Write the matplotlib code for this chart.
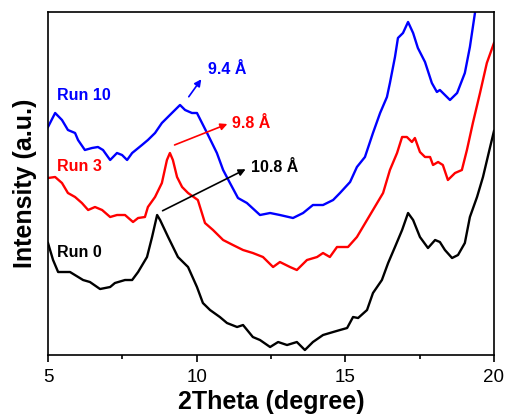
import numpy as np
import matplotlib
matplotlib.use('Agg')
import matplotlib.pyplot as plt

plt.rcParams['font.family'] = ['Liberation Sans', 'DejaVu Sans']

# XRD patterns (2theta in degrees, intensity in arbitrary units)
run0_x = [5.00, 5.17, 5.34, 5.74, 6.18, 6.41, 6.75, 7.09, 7.25, 7.59, 7.83, 8.03, 8.33,
          8.50, 8.67, 8.77, 9.04, 9.37, 9.71, 10.01, 10.21, 10.45, 10.78, 11.02, 11.36,
          11.56, 11.89, 12.13, 12.47, 12.74, 13.04, 13.37, 13.64, 13.91, 14.25, 14.59,
          14.82, 15.06, 15.26, 15.43, 15.73, 15.93, 16.23, 16.44, 16.67, 16.91, 17.11,
          17.28, 17.51, 17.78, 18.02, 18.18, 18.35, 18.59, 18.79, 19.02, 19.19, 19.43,
          19.63, 19.87, 20.00]
run0_y = [112, 95, 83, 83, 75, 73, 66, 68, 72, 75, 75, 83, 98,
          118, 140, 135, 118, 98, 88, 68, 52, 45, 38, 32, 28,
          30, 18, 15, 8, 13, 10, 13, 5, 13, 20, 23,
          25, 27, 38, 37, 45, 62, 75, 92, 108, 125, 142,
          135, 118, 107, 115, 113, 105, 97, 100, 112, 138, 158,
          178, 208, 224]

run3_x = [5.00, 5.24, 5.47, 5.67, 5.91, 6.14, 6.35, 6.58, 6.82, 7.09, 7.32, 7.59, 7.86,
          8.03, 8.26, 8.36, 8.60, 8.83, 9.00, 9.10, 9.20, 9.34, 9.51, 9.71, 10.04,
          10.28, 10.55, 10.89, 11.22, 11.56, 11.89, 12.23, 12.57, 12.80, 13.14, 13.37,
          13.71, 14.05, 14.25, 14.48, 14.72, 15.09, 15.39, 15.73, 16.07, 16.27, 16.50,
          16.74, 16.91, 17.07, 17.24, 17.34, 17.51, 17.68, 17.85, 17.95, 18.12, 18.28,
          18.45, 18.69, 18.92, 19.09, 19.29, 19.53, 19.76, 20.00]
run3_y = [177, 178, 172, 162, 158, 152, 145, 148, 145, 138, 140, 140, 133,
          137, 138, 148, 158, 172, 195, 202, 195, 178, 168, 162, 155,
          132, 125, 115, 110, 105, 102, 98, 88, 93, 88, 85,
          95, 98, 102, 98, 108, 108, 118, 135, 152, 162, 185,
          202, 218, 218, 213, 217, 203, 198, 198, 190, 193, 190,
          175, 182, 185, 205, 232, 262, 292, 312]

run10_x = [5.00, 5.24, 5.47, 5.67, 5.91, 6.01, 6.24, 6.48, 6.68, 6.85, 7.09, 7.32, 7.49,
           7.66, 7.83, 8.16, 8.36, 8.60, 8.83, 9.10, 9.27, 9.44, 9.61, 9.84, 10.01,
           10.35, 10.68, 10.89, 11.12, 11.39, 11.69, 12.13, 12.47, 12.80, 13.24, 13.58,
           13.91, 14.25, 14.59, 14.82, 15.16, 15.39, 15.66, 15.93, 16.17, 16.40, 16.50,
           16.67, 16.77, 16.94, 17.11, 17.28, 17.44, 17.68, 17.91, 18.08, 18.18, 18.52,
           18.76, 19.02, 19.19, 19.36, 19.53, 20.00]
run10_y = [228, 242, 235, 225, 222, 215, 205, 207, 208, 205, 195, 202, 200,
           195, 202, 210, 215, 222, 232, 240, 245, 250, 245, 242, 242,
           222, 202, 185, 172, 157, 152, 140, 142, 140, 137, 142,
           150, 150, 155, 162, 173, 188, 198, 222, 242, 258, 272,
           298, 317, 322, 333, 322, 307, 293, 272, 263, 265, 255,
           262, 282, 308, 342, 380, 470]

labels = ['Run 0', 'Run 3', 'Run 10']
colors = ['black', 'red', 'blue']
label_y = [103, 188, 259]
spacing = ['10.8 Å', '9.8 Å', '9.4 Å']
arrow_tail = [(8.77, 143), (9.17, 209), (9.68, 256)]
arrow_head = [(11.73, 187), (11.12, 232), (10.21, 278)]
text_pos = [(11.83, 187), (11.19, 231), (10.38, 285)]

fig = plt.figure(figsize=(5.08, 4.19), dpi=100)
ax = fig.add_axes([0.0945, 0.1527, 0.8779, 0.8187])

for xs, ys, c in zip([run0_x, run3_x, run10_x], [run0_y, run3_y, run10_y], colors):
    ax.plot(xs, ys, color=c, lw=1.7, solid_joinstyle='round')

for lab, c, ly in zip(labels, colors, label_y):
    ax.text(5.3, ly, lab, color=c, fontsize=11.5, fontweight='bold', va='center', ha='left')

for s, c, t, h, p in zip(spacing, colors, arrow_tail, arrow_head, text_pos):
    ax.annotate('', xy=h, xytext=t,
                arrowprops=dict(arrowstyle='-|>', color=c, lw=1.2, mutation_scale=10))
    ax.text(p[0], p[1], s, color=c, fontsize=11.5, fontweight='bold', va='center', ha='left')

ax.set_xlim(5, 20)
ax.set_ylim(0, 343)
ax.set_xticks([5, 10, 15, 20])
ax.set_xticks([7.5, 12.5, 17.5], minor=True)
ax.set_yticks([])
ax.tick_params(axis='x', which='major', labelsize=13.5, length=5, width=1.2,
               direction='out', pad=5)
ax.tick_params(axis='x', which='minor', length=3, width=1.2, direction='out')
for sp in ax.spines.values():
    sp.set_linewidth(1.2)

ax.set_xlabel('2Theta (degree)', fontsize=18, fontweight='bold', labelpad=3)
ax.set_ylabel('Intensity (a.u.)', fontsize=18, fontweight='bold', labelpad=8)

fig.savefig('out.png', dpi=100)
